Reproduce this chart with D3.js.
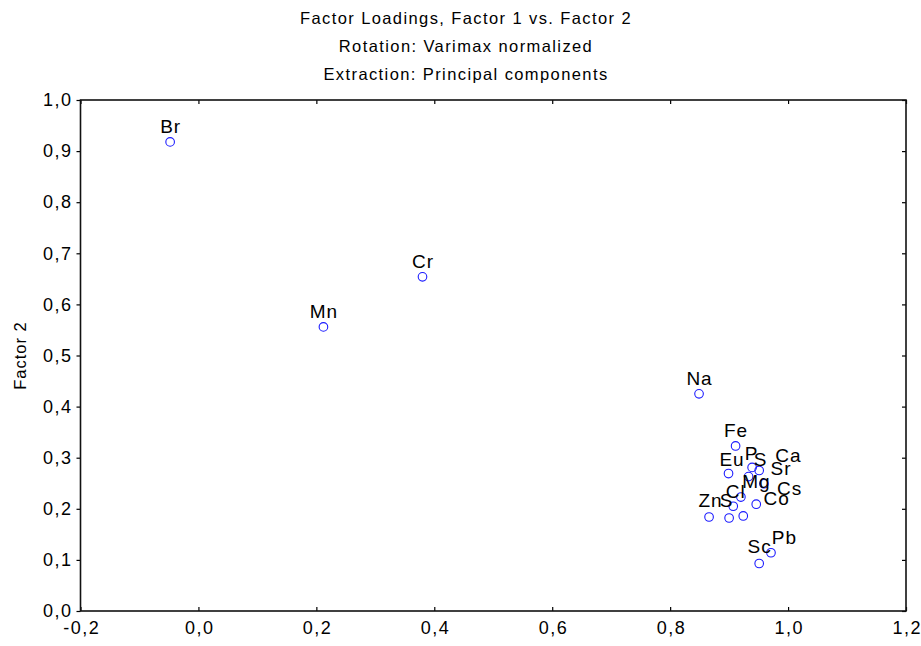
<!DOCTYPE html>
<html>
<head>
<meta charset="utf-8">
<script src="https://cdn.jsdelivr.net/npm/d3@7"></script>
<style>
  body { margin: 0; background: #fff; }
  text { font-family: "Liberation Sans", Arial, sans-serif; fill: #000; }
</style>
</head>
<body>
<div id="chart"></div>
<script>
// factor loadings
var elements = ["Br", "Mn", "Cr", "Na", "Fe", "Eu", "P", "S", "Ca", "Sr", "Mg", "Cl", "Cs", "Co", "Zn", "S", "Pb", "Sc"];
var factor1  = [-0.048, 0.212, 0.380, 0.849, 0.911, 0.899, 0.939, 0.951, 0.959, 0.933, 0.920, 0.907, 0.946, 0.924, 0.866, 0.900, 0.971, 0.951];
var factor2  = [0.918, 0.556, 0.654, 0.425, 0.323, 0.269, 0.281, 0.275, 0.249, 0.263, 0.223, 0.205, 0.209, 0.186, 0.184, 0.182, 0.114, 0.093];
var xTicks   = [-0.2, 0.0, 0.2, 0.4, 0.6, 0.8, 1.0, 1.2];
var yTicks   = [0.0, 0.1, 0.2, 0.3, 0.4, 0.5, 0.6, 0.7, 0.8, 0.9, 1.0];
var titles   = ["Factor Loadings, Factor 1 vs. Factor 2", "Rotation: Varimax normalized", "Extraction: Principal components"];

// label nudges (px) so the crowded cluster reads like the original
var labelShift = [[0,-9],[0,-9],[0,-9],[0,-9],[0,-9],[3,-8],[-1,-7],[1,-4],[24,-22],[32,-2],
                  [15,-9],[2,-8],[33,-9],[33,-11],[1,-10],[-3,-11],[13,-9],[0,-10]];

var W = 921, H = 646;
var margin = {top: 100, right: 15, bottom: 35, left: 80.5};
var plotW = 906 - margin.left, plotH = 611 - margin.top;

var loc = d3.formatLocale({decimal: ",", thousands: ".", grouping: [3], currency: ["", ""], minus: "-"});
var fmt = loc.format(".1f");

var svg = d3.select("#chart").append("svg")
    .attr("width", W).attr("height", H);

var g = svg.append("g")
    .attr("transform", "translate(" + margin.left + "," + margin.top + ")");

var x = d3.scaleLinear().domain([-0.2, 1.2]).range([0, plotW]);
var y = d3.scaleLinear().domain([0, 1]).range([plotH, 0]);

// titles
svg.selectAll(".title").data(titles).enter().append("text")
    .attr("class", "title")
    .attr("x", 466).attr("y", function (d, i) { return 24 + i * 28; })
    .attr("text-anchor", "middle")
    .style("font-size", "16.5px")
    .style("letter-spacing", "1.4px")
    .text(function (d) { return d; });

// axes
var xAxis = g.append("g").attr("transform", "translate(0," + plotH + ")")
    .call(d3.axisBottom(x).tickValues(xTicks).tickFormat(fmt).tickSizeInner(-4).tickSizeOuter(0).tickPadding(10));
var xTop = g.append("g")
    .call(d3.axisTop(x).tickValues(xTicks).tickFormat("").tickSizeInner(-4).tickSizeOuter(0));
var yAxis = g.append("g")
    .call(d3.axisLeft(y).tickValues(yTicks).tickFormat(fmt).tickSizeInner(4).tickSizeOuter(0).tickPadding(4));
var yRight = g.append("g").attr("transform", "translate(" + plotW + ",0)")
    .call(d3.axisRight(y).tickValues(yTicks).tickFormat("").tickSizeInner(-4).tickSizeOuter(0));

[xAxis, xTop, yAxis, yRight].forEach(function (a) {
  a.select(".domain").remove();
  a.selectAll("line").attr("stroke", "#000").attr("stroke-width", 1.2);
  a.selectAll("text")
    .style("font-size", "18px")
    .style("letter-spacing", "1.5px")
    .style("font-family", "'Liberation Sans', Arial, sans-serif")
    .attr("fill", "#000");
});
xAxis.selectAll("text").attr("dx", "0.75px");

// frame
g.append("rect")
    .attr("width", plotW).attr("height", plotH)
    .attr("fill", "none").attr("stroke", "#111").attr("stroke-width", 1.6);

// y axis title
svg.append("text")
    .attr("transform", "translate(26," + (margin.top + plotH / 2) + ") rotate(-90)")
    .attr("text-anchor", "middle")
    .style("font-size", "16.5px")
    .style("letter-spacing", "1px")
    .text("Factor 2");

var idx = d3.range(elements.length);

g.selectAll(".pt").data(idx).enter().append("circle")
    .attr("class", "pt")
    .attr("cx", function (i) { return x(factor1[i]); })
    .attr("cy", function (i) { return y(factor2[i]); })
    .attr("r", 4.3)
    .attr("fill", "none")
    .attr("stroke", "#1a1aff")
    .attr("stroke-width", 1.1);

g.selectAll(".lbl").data(idx).enter().append("text")
    .attr("class", "lbl")
    .attr("x", function (i) { return x(factor1[i]) + labelShift[i][0] + 0.5; })
    .attr("y", function (i) { return y(factor2[i]) + labelShift[i][1]; })
    .attr("text-anchor", "middle")
    .style("font-size", "19px")
    .style("letter-spacing", "1px")
    .text(function (i) { return elements[i]; });
</script>
</body>
</html>
